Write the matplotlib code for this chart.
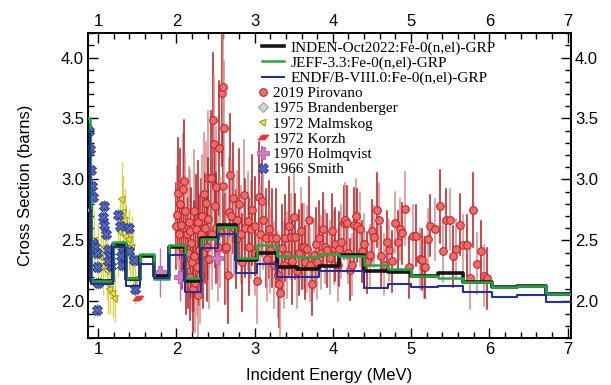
import matplotlib
matplotlib.use("Agg")
import matplotlib.pyplot as plt
import numpy as np
from matplotlib.ticker import MultipleLocator

# ---------------- evaluated group-wise cross sections ----------------
grp_edges = [0.80, 0.89, 0.91, 1.19, 1.36, 1.54, 1.71, 1.90, 2.11, 2.32, 2.53, 2.76,
             3.03, 3.28, 3.54, 3.82, 4.08, 4.40, 4.71, 5.00, 5.35, 5.67, 6.04, 6.36,
             6.73, 7.10]
inden = [3.45, 2.80, 2.17, 2.475, 2.18, 2.37, 2.21, 2.45, 2.17, 2.52, 2.63, 2.34,
         2.40, 2.28, 2.27, 2.29, 2.38, 2.25, 2.245, 2.21, 2.23, 2.16, 2.12, 2.125, 2.065]
jeff = [3.50, 2.85, 2.17, 2.49, 2.19, 2.39, 2.18, 2.46, 2.19, 2.51, 2.61, 2.36,
        2.46, 2.37, 2.365, 2.39, 2.37, 2.30, 2.27, 2.21, 2.19, 2.16, 2.12, 2.125, 2.06]
endf = [3.40, 2.75, 2.14, 2.45, 2.13, 2.31, 2.19, 2.38, 2.08, 2.44, 2.55, 2.235,
        2.31, 2.20, 2.20, 2.25, 2.25, 2.11, 2.14, 2.12, 2.13, 2.08, 2.035, 2.05, 1.995]

# ---------------- experimental data ----------------
piro_E = [2.00, 2.01, 2.02, 2.03, 2.05, 2.06, 2.07, 2.09, 2.10, 2.11, 2.12, 2.13, 2.15,
          2.16, 2.17, 2.18, 2.19, 2.20, 2.21, 2.22, 2.23, 2.24, 2.25, 2.26, 2.27, 2.28,
          2.29, 2.30, 2.31, 2.33, 2.34, 2.35, 2.36, 2.38, 2.39, 2.40, 2.41, 2.42, 2.44,
          2.45, 2.47, 2.48, 2.49, 2.50, 2.51, 2.53, 2.55, 2.56, 2.58, 2.59, 2.60, 2.61,
          2.62, 2.64, 2.66, 2.67, 2.69, 2.70, 2.72, 2.74, 2.76, 2.78, 2.80, 2.82, 2.84,
          2.86, 2.88, 2.91, 2.93, 2.95, 2.97, 3.00, 3.01, 3.03, 3.05, 3.07, 3.09, 3.11,
          3.14, 3.16, 3.18, 3.20, 3.22, 3.25, 3.27, 3.30, 3.31, 3.33, 3.35, 3.37, 3.39,
          3.42, 3.44, 3.46, 3.48, 3.50, 3.52, 3.54, 3.57, 3.59, 3.61, 3.63, 3.65, 3.67,
          3.69, 3.71, 3.73, 3.76, 3.78, 3.80, 3.82, 3.85, 3.87, 3.90, 3.93, 3.96, 3.99,
          4.01, 4.03, 4.06, 4.08, 4.10, 4.14, 4.16, 4.18, 4.20, 4.22, 4.24, 4.27, 4.29,
          4.31, 4.35, 4.37, 4.40, 4.44, 4.47, 4.50, 4.53, 4.56, 4.59, 4.62, 4.65, 4.69,
          4.72, 4.75, 4.79, 4.83, 4.86, 4.89, 4.92, 4.97, 5.03, 5.06, 5.11, 5.14, 5.16,
          5.18, 5.22, 5.24, 5.31, 5.37, 5.41, 5.45, 5.50, 5.54, 5.58, 5.62, 5.67, 5.71,
          5.75, 5.79, 5.84, 5.89, 5.93, 5.97]
piro_S = [2.62, 2.71, 2.89, 2.55, 2.80, 2.63, 2.45, 2.92, 2.99, 2.74, 2.30, 2.55, 2.40,
          2.65, 2.20, 2.58, 2.48, 2.32, 2.10, 2.74, 2.37, 2.15, 2.59, 2.28, 2.65, 2.05,
          2.42, 2.22, 2.55, 2.70, 2.40, 2.88, 2.60, 2.81, 2.45, 3.01, 2.68, 2.35, 3.01,
          2.55, 3.49, 3.29, 2.78, 2.94, 2.60, 2.45, 3.26, 2.57, 3.71, 3.76, 2.95, 3.42,
          2.43, 2.45, 2.22, 2.73, 3.04, 2.70, 2.85, 2.60, 2.51, 2.67, 2.80, 2.55, 2.32,
          2.87, 2.60, 2.66, 2.45, 2.59, 2.75, 2.40, 2.62, 2.17, 2.86, 2.55, 2.82, 2.67,
          2.52, 2.35, 2.59, 2.42, 2.52, 2.30, 2.52, 2.22, 2.14, 2.07, 2.44, 2.30, 2.52,
          2.38, 2.62, 2.53, 2.33, 2.69, 2.53, 2.25, 2.40, 2.58, 2.45, 2.45, 2.32, 2.43,
          2.67, 2.30, 2.14, 2.38, 2.47, 2.32, 2.52, 2.40, 2.59, 2.45, 2.42, 2.36, 2.58,
          2.44, 2.47, 2.30, 2.43, 2.49, 2.645, 2.67, 2.645, 2.40, 2.26, 2.30, 2.63, 2.70,
          2.62, 2.59, 2.41, 2.47, 2.32, 2.38, 2.58, 2.53, 2.75, 2.67, 2.37, 2.30, 2.49,
          2.42, 2.33, 2.645, 2.49, 2.59, 2.56, 2.76, 2.28, 2.54, 2.54, 2.35, 2.34, 2.28,
          2.28, 2.51, 2.62, 2.59, 2.78, 2.41, 2.67, 2.67, 2.37, 2.43, 2.63, 2.46, 2.46,
          2.19, 2.75, 2.31, 2.41, 2.21, 2.19]
piro_err = [0.35, 0.40, 0.45, 0.40, 0.45, 0.40, 0.35, 0.45, 0.50, 0.45, 0.40, 0.45, 0.45,
            0.45, 0.35, 0.50, 0.45, 0.40, 0.35, 0.50, 0.45, 0.40, 0.45, 0.40, 0.50, 0.35,
            0.45, 0.40, 0.45, 0.50, 0.45, 0.50, 0.45, 0.50, 0.45, 0.55, 0.50, 0.40, 0.55,
            0.45, 0.55, 0.55, 0.50, 0.50, 0.45, 0.45, 0.55, 0.45, 0.60, 0.60, 0.50, 0.55,
            0.45, 0.45, 0.40, 0.45, 0.50, 0.45, 0.45, 0.40, 0.40, 0.40, 0.45, 0.40, 0.40,
            0.45, 0.40, 0.40, 0.40, 0.40, 0.45, 0.35, 0.40, 0.35, 0.45, 0.40, 0.45, 0.40,
            0.40, 0.35, 0.40, 0.35, 0.40, 0.35, 0.40, 0.35, 0.35, 0.35, 0.35, 0.35, 0.35,
            0.35, 0.40, 0.35, 0.35, 0.40, 0.35, 0.30, 0.35, 0.35, 0.35, 0.35, 0.30, 0.35,
            0.35, 0.30, 0.25, 0.30, 0.30, 0.30, 0.30, 0.30, 0.30, 0.30, 0.30, 0.30, 0.30,
            0.30, 0.30, 0.30, 0.30, 0.30, 0.30, 0.30, 0.30, 0.25, 0.25, 0.25, 0.30, 0.30,
            0.30, 0.30, 0.25, 0.25, 0.25, 0.25, 0.25, 0.25, 0.30, 0.30, 0.25, 0.25, 0.25,
            0.25, 0.25, 0.25, 0.25, 0.25, 0.25, 0.30, 0.25, 0.25, 0.25, 0.25, 0.25, 0.25,
            0.25, 0.25, 0.25, 0.25, 0.30, 0.25, 0.25, 0.25, 0.25, 0.25, 0.25, 0.25, 0.25,
            0.25, 0.30, 0.25, 0.25, 0.25, 0.25]

brand_E = []
brand_S = []

malm_E = [0.90, 0.95, 1.00, 1.03, 1.06, 1.09, 1.11, 1.13, 1.15, 1.19, 1.21, 1.25, 1.28,
          1.30, 1.32, 1.34, 1.36, 1.39, 1.41, 1.43, 1.45, 1.47]
malm_S = [2.75, 2.50, 2.40, 2.37, 2.30, 2.45, 2.26, 2.15, 2.10, 2.07, 2.03, 2.45, 2.58,
          2.84, 2.73, 2.67, 2.54, 2.51, 2.40, 2.45, 2.34, 2.18]
malm_err = [0.25, 0.25, 0.25, 0.25, 0.25, 0.25, 0.25, 0.25, 0.20, 0.20, 0.20, 0.25, 0.25,
            0.30, 0.30, 0.25, 0.25, 0.25, 0.25, 0.25, 0.25, 0.20]

korzh_E = [1.51]
korzh_S = [2.03]

holm_E = [1.79, 2.04, 2.52]
holm_S = [2.24, 2.20, 2.36]
holm_err = [0.20, 0.20, 0.20]

smith_E = [0.88, 0.89, 0.91, 0.92, 0.94, 0.94, 0.96, 0.98, 0.99, 1.00, 0.98, 1.07, 1.06,
           1.07, 1.10, 1.12, 1.15, 1.17, 1.13, 1.26, 1.28, 1.29, 1.30, 1.32, 1.39, 1.40,
           1.46, 1.47]
smith_S = [3.40, 3.25, 3.08, 2.95, 2.86, 2.48, 2.45, 2.40, 2.28, 2.15, 1.93, 2.78, 2.69,
           2.63, 2.55, 2.42, 2.37, 2.29, 2.33, 2.71, 2.62, 2.37, 2.30, 2.45, 2.60, 2.41,
           2.34, 2.10]
smith_err = [0.05] * len(smith_E)

labels_eval = ["INDEN-Oct2022:Fe-0(n,el)-GRP", "JEFF-3.3:Fe-0(n,el)-GRP",
               "ENDF/B-VIII.0:Fe-0(n,el)-GRP"]
labels_exp = ["2019 Pirovano", "1975 Brandenberger", "1972 Malmskog", "1972 Korzh",
              "1970 Holmqvist", "1966 Smith"]

# ---------------- figure ----------------
plt.rcParams['font.family'] = ['Liberation Sans', 'DejaVu Sans']
fig = plt.figure(figsize=(6.11, 3.85), dpi=100)
ax = fig.add_axes([0.144, 0.122, 0.790, 0.792])

# Pirovano error bars (two tones alternating)
pe = np.array(piro_E); ps = np.array(piro_S); perr = np.array(piro_err)
for i in range(len(pe)):
    col = '#b3191c' if i % 2 == 0 else '#d98a8c'
    ax.plot([pe[i], pe[i]], [ps[i] - perr[i], ps[i] + perr[i]], color=col, lw=1.1, zorder=2)

# Malmskog
ax.errorbar(malm_E, malm_S, yerr=malm_err, fmt='none', ecolor='#d8d450', elinewidth=1.0, zorder=2)
# Holmqvist
ax.errorbar(holm_E, holm_S, yerr=holm_err, fmt='none', ecolor='#c86ab8', elinewidth=1.0, zorder=2)
# Smith
ax.errorbar(smith_E, smith_S, yerr=smith_err, fmt='none', ecolor='#4a5ab0', elinewidth=1.0, zorder=2)

h_piro, = ax.plot(piro_E, piro_S, 'o', ms=5.5, mfc='#ee6b6b', mec='#c02828', mew=0.8, ls='none', zorder=3)
h_brand, = ax.plot(brand_E, brand_S, 'D', ms=5, mfc='#d4d4d4', mec='#a0a0a0', mew=0.8, ls='none', zorder=3)
h_malm, = ax.plot(malm_E, malm_S, marker=(3, 0, 200), ms=6, mfc='#e8e040', mec='#9a9a20', mew=0.7, ls='none', zorder=3)
korzh_marker = [(-1, -0.45), (0.3, -0.45), (1, 0.45), (-0.3, 0.45), (-1, -0.45)]
h_korzh, = ax.plot(korzh_E, korzh_S, marker=korzh_marker, ms=8, mfc='#e83434', mec='#e83434', mew=0.5, ls='none', zorder=3)
h_holm, = ax.plot(holm_E, holm_S, 'P', ms=8, mfc='#d27ac4', mec='#b85aa8', mew=0.6, ls='none', zorder=3)
h_smith, = ax.plot(smith_E, smith_S, 'X', ms=7, mfc='#5566c0', mec='#2c3a8c', mew=0.7, ls='none', zorder=3)

# evaluations (step lines)
def stepvals(v):
    return list(v) + [v[-1]]
h_inden, = ax.step(grp_edges, stepvals(inden), where='post', color='#161616', lw=2.6, zorder=4)
h_jeff, = ax.step(grp_edges, stepvals(jeff), where='post', color='#24a844', lw=1.8, zorder=5)
h_endf, = ax.step(grp_edges, stepvals(endf), where='post', color='#22319e', lw=1.5, zorder=6)

ax.set_xlim(0.87, 7.04)
ax.set_ylim(1.70, 4.20)
ax.xaxis.set_major_locator(MultipleLocator(1))
ax.xaxis.set_minor_locator(MultipleLocator(0.2))
ax.yaxis.set_major_locator(MultipleLocator(0.5))
ax.yaxis.set_minor_locator(MultipleLocator(0.1))
ax.tick_params(which='both', direction='in', top=True, right=True,
               labeltop=True, labelright=True, labelsize=12, width=1.0)
ax.tick_params(which='major', length=7, pad=3)
ax.tick_params(which='minor', length=4)
for s in ax.spines.values():
    s.set_linewidth(1.4)

ax.set_xlabel('Incident Energy (MeV)', fontsize=12, labelpad=8)
ax.set_ylabel('Cross Section (barns)', fontsize=12, labelpad=20)

lp = dict(family='Liberation Serif', size=11)
leg1 = ax.legend([h_inden, h_jeff, h_endf], labels_eval, loc='upper left',
                 bbox_to_anchor=(0.36, 0.975), frameon=False, prop=lp,
                 handlelength=1.45, handletextpad=0.42, labelspacing=0.1, borderpad=0.0,
                 borderaxespad=0.0)
ax.add_artist(leg1)
leg2 = ax.legend([h_piro, h_brand, h_malm, h_korzh, h_holm, h_smith], labels_exp,
                 loc='upper left', bbox_to_anchor=(0.35, 0.825), frameon=False, prop=lp,
                 handlelength=0.75, handletextpad=0.3, labelspacing=0.1, borderpad=0.0,
                 borderaxespad=0.0)

fig.savefig('out.png', dpi=100)
